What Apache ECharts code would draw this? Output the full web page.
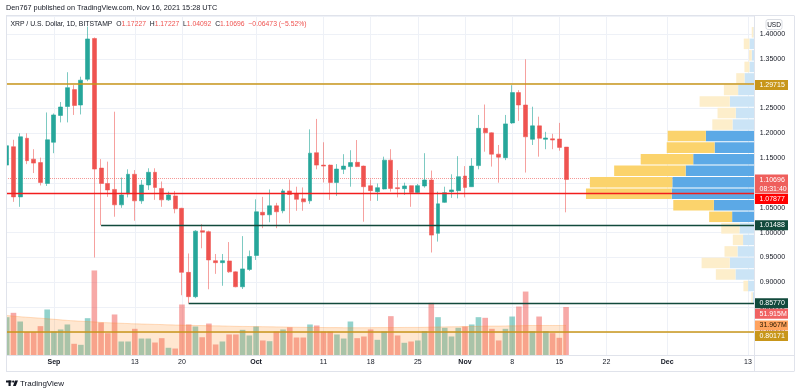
<!DOCTYPE html>
<html>
<head>
<meta charset="utf-8">
<script src="https://cdn.jsdelivr.net/npm/echarts@6/dist/echarts.min.js"></script>
<style>html,body{margin:0;padding:0;background:#fff;}#c{width:800px;height:392px;}</style>
</head>
<body>
<div id="c"></div>
<script>
// ---------------- DATA ----------------
const firstCategory = '2021-08-24';   // first calendar day on the time axis
const categoryCount = 113;            // through 2021-12-14
const firstCandleDate = '2021-08-25';

// time-axis tick labels (date -> label)
const timeTickLabels = {
  '2021-09-01': 'Sep', '2021-09-13': '13', '2021-09-20': '20',
  '2021-10-01': 'Oct', '2021-10-11': '11', '2021-10-18': '18', '2021-10-25': '25',
  '2021-11-01': 'Nov', '2021-11-08': '8', '2021-11-15': '15', '2021-11-22': '22',
  '2021-12-01': 'Dec', '2021-12-13': '13'
};
const monthNames = ['Sep', 'Oct', 'Nov', 'Dec'];

// daily candles from 2021-08-25: [open, close, low, high]
const ohlc = [
  [1.136, 1.175, 1.128, 1.182],
  [1.173, 1.072, 1.062, 1.187],
  [1.072, 1.193, 1.052, 1.200],
  [1.190, 1.145, 1.138, 1.200],
  [1.148, 1.140, 1.120, 1.168],
  [1.141, 1.101, 1.095, 1.151],
  [1.099, 1.187, 1.094, 1.242],
  [1.182, 1.237, 1.160, 1.240],   // Sep 1
  [1.236, 1.253, 1.222, 1.263],
  [1.254, 1.292, 1.222, 1.323],
  [1.288, 1.256, 1.237, 1.297],
  [1.257, 1.307, 1.238, 1.314],
  [1.309, 1.390, 1.305, 1.415],
  [1.391, 1.128, 0.950, 1.393],
  [1.130, 1.099, 1.01488, 1.148],
  [1.099, 1.086, 1.072, 1.143],
  [1.087, 1.056, 1.032, 1.2435],
  [1.056, 1.076, 1.050, 1.111],
  [1.078, 1.1175, 1.071, 1.1275],
  [1.1175, 1.064, 1.024, 1.126],  // Sep 13
  [1.064, 1.096, 1.058, 1.106],
  [1.096, 1.1215, 1.086, 1.1296],
  [1.1215, 1.091, 1.066, 1.1296],
  [1.089, 1.066, 1.052, 1.103],
  [1.066, 1.076, 1.064, 1.0825],
  [1.074, 1.048, 1.039, 1.084],
  [1.049, 0.920, 0.874, 1.050],   // Sep 20
  [0.920, 0.871, 0.8577, 0.958],
  [0.871, 1.003, 0.868, 1.005],
  [1.004, 1.001, 0.9685, 1.017],
  [1.002, 0.945, 0.886, 1.004],
  [0.9435, 0.9395, 0.917, 0.957],
  [0.9395, 0.9435, 0.893, 0.957],
  [0.943, 0.921, 0.919, 0.981],
  [0.921, 0.891, 0.890, 0.922],
  [0.891, 0.927, 0.8865, 0.993],
  [0.926, 0.952, 0.923, 0.964],
  [0.954, 1.042, 0.945, 1.067],   // Oct 1
  [1.041, 1.0355, 1.009, 1.072],
  [1.036, 1.054, 1.021, 1.087],
  [1.054, 1.042, 1.009, 1.060],
  [1.044, 1.084, 1.039, 1.088],
  [1.084, 1.077, 1.019, 1.107],
  [1.079, 1.067, 1.044, 1.0925],
  [1.068, 1.062, 1.044, 1.091],
  [1.064, 1.160, 1.058, 1.208],
  [1.161, 1.136, 1.1275, 1.229],
  [1.136, 1.134, 1.101, 1.182],   // Oct 11
  [1.136, 1.101, 1.066, 1.137],
  [1.101, 1.128, 1.074, 1.138],
  [1.1275, 1.134, 1.118, 1.158],
  [1.133, 1.141, 1.0925, 1.166],
  [1.1416, 1.133, 1.132, 1.1865],
  [1.134, 1.0925, 1.022, 1.135],
  [1.0945, 1.0845, 1.064, 1.107], // Oct 18
  [1.0825, 1.0905, 1.064, 1.099],
  [1.088, 1.146, 1.087, 1.153],
  [1.146, 1.089, 1.0825, 1.168],
  [1.0906, 1.0886, 1.071, 1.126],
  [1.0886, 1.094, 1.076, 1.1006],
  [1.0946, 1.081, 1.052, 1.095],
  [1.081, 1.0946, 1.079, 1.098],  // Oct 25
  [1.094, 1.106, 1.0906, 1.160],
  [1.106, 0.995, 0.960, 1.125],
  [0.9986, 1.058, 0.982, 1.0825],
  [1.061, 1.0805, 1.060, 1.0925],
  [1.0825, 1.086, 1.070, 1.1175],
  [1.0845, 1.1127, 1.069, 1.154],
  [1.114, 1.091, 1.071, 1.134],   // Nov 1
  [1.0925, 1.134, 1.092, 1.150],
  [1.135, 1.210, 1.1275, 1.237],
  [1.210, 1.201, 1.163, 1.258],
  [1.201, 1.158, 1.133, 1.202],
  [1.158, 1.152, 1.1006, 1.1765],
  [1.151, 1.219, 1.146, 1.237],
  [1.221, 1.282, 1.219, 1.297],   // Nov 8
  [1.282, 1.257, 1.225, 1.287],
  [1.257, 1.193, 1.121, 1.349],
  [1.188, 1.215, 1.1765, 1.2536],
  [1.215, 1.190, 1.153, 1.2335],
  [1.188, 1.1906, 1.168, 1.203],
  [1.189, 1.1865, 1.168, 1.199],
  [1.1886, 1.17169, 1.165, 1.221],  // Nov 15
  [1.17227, 1.10696, 1.04092, 1.17227] // Nov 16
];

// daily volume (millions) from 2021-08-25
const volumes = [
  40.9, 45.6, 36.2, 24.7, 24.7, 31.2, 49.2,
  25.4, 27.6, 33.0, 12.1, 11.0, 39.8, 91.4, 35.1, 23.6, 43.8, 14.6, 14.6,
  28.3, 17.8, 17.8, 13.5, 18.2, 7.8, 7.0,
  54.6, 33.0, 30.8, 19.2, 34.0, 11.4, 14.6, 22.2, 22.2, 27.2, 21.1,
  30.8, 15.7, 14.9, 25.4, 27.6, 30.0, 18.9, 18.9, 33.0, 31.9,
  25.4, 25.4, 22.2, 17.8, 36.2, 18.2, 20.0,
  27.6, 16.4, 25.4, 42.0, 21.1, 13.2, 14.6,
  15.7, 25.7, 56.4, 40.9, 29.4, 20.0, 29.4,
  30.8, 33.0, 40.9, 40.2, 28.3, 15.7, 28.3,
  41.6, 52.4, 68.6, 25.7, 41.6, 25.7, 23.6,
  18.6, 51.915
];

// volume moving average (millions) from 2021-08-24
const volumeMA = [
  43.2, 42.7, 42.0, 41.4, 40.8, 40.3, 39.8, 39.2,
  38.6, 38.0, 37.4, 36.9, 36.5, 36.1, 35.8, 35.2, 34.9, 34.6, 34.3, 34.0,
  33.7, 33.5, 33.3, 33.1, 32.9, 32.6, 32.4, 32.3, 32.1, 31.9, 31.8, 31.6,
  31.5, 31.4, 31.2, 31.0, 30.9, 30.8, 30.7, 30.6, 30.5, 30.4, 30.3, 30.1,
  30.0, 29.9, 29.8, 29.8, 29.7, 29.6, 29.6, 29.5, 29.5, 29.5, 29.5, 29.5,
  29.6, 29.6, 29.7, 29.7, 29.8, 29.8, 29.8, 29.9, 30.1, 30.3, 30.4, 30.5,
  30.6, 30.7, 30.9, 31.0, 31.2, 31.3, 31.3, 31.4, 31.5, 31.6, 31.8, 31.9,
  31.9, 31.9, 31.9, 31.9, 31.967
];

// visible-range volume profile, 24 rows from the lowest low (bottom) upward (millions)
const profileDown = [2.3, 8.2, 34.5, 49.5, 22.8, 18.0, 32.0, 40.3, 71.2, 150.5, 144.7, 125.5,
                     92.2, 84.0, 67.0, 35.5, 32.0, 53.0, 25.0, 14.5, 8.8, 4.7, 10.0, 3.0];
const profileUp   = [3.5, 11.7, 33.8, 43.8, 30.3, 20.5, 26.8, 39.7, 71.8, 145.8, 144.7, 121.3,
                     108.0, 70.5, 85.8, 39.0, 33.3, 43.8, 29.2, 18.0, 9.3, 5.3, 9.3, 2.3];
const valueAreaRows = [7, 14];

// drawn horizontal levels
const levelPrices = [1.29715, 1.07877, 1.01488, 0.85770, 0.80171];
const levelStarts = [null, null, '2021-09-08', '2021-09-21', null];
const levelColors = ['#c8961a', '#f21d1d', '#124a3c', '#124a3c', '#c8961a'];

// ---------------- BUILD ----------------
const FONT = 'Liberation Sans, Arial, sans-serif';
const TXT = '#131722';
const UP = '#26a69a', DOWN = '#ef5350';

const categories = [];
const base = new Date(firstCategory + 'T00:00:00Z');
for (let i = 0; i < categoryCount; i++) {
  const d = new Date(base.getTime() + i * 86400000);
  categories.push(d.toISOString().slice(0, 10));
}
const c0 = categories.indexOf(firstCandleDate);
const candleData = ohlc.map((r, i) => [categories[c0 + i], r[0], r[1], r[2], r[3]]);
const volData = volumes.map((v, i) => ({
  value: [categories[c0 + i], v],
  itemStyle: { color: ohlc[i][1] >= ohlc[i][0] ? 'rgba(38,166,154,0.5)' : 'rgba(239,83,80,0.5)' }
}));
const maData = volumeMA.map((v, i) => [categories[i], v]);

const lastIdx = ohlc.length - 1;
const lastC = ohlc[lastIdx][1], prevC = ohlc[lastIdx - 1][1];
const lows = ohlc.map(r => r[2]), highs = ohlc.map(r => r[3]);
const pLow = Math.min(...lows), pHigh = Math.max(...highs);
const nRows = profileDown.length, step = (pHigh - pLow) / nRows;
const profileData = profileDown.map((dn, i) => [pLow + i * step, pLow + (i + 1) * step, dn, profileUp[i],
  (i >= valueAreaRows[0] && i <= valueAreaRows[1]) ? 1 : 0]);

const PRICE_MAX = 1.436247, PRICE_MIN = 0.753605;
const G = { left: -2.38, width: 757.12 };
const lastCat = categories[categories.length - 1];

const levelLines = levelPrices.map((p, i) => {
  const ls = { color: levelColors[i], width: i === 0 || i === 4 ? 1.6 : 1.3, type: 'solid' };
  if (levelStarts[i]) return [{ coord: [levelStarts[i], p], lineStyle: ls }, { coord: [lastCat, p] }];
  return { yAxis: p, lineStyle: ls };
});

function renderProfile(params, api) {
  const lo = api.value(0), hi = api.value(1), dn = api.value(2), up = api.value(3), va = api.value(4);
  const top = api.coord([0, hi]), bot = api.coord([0, lo]);
  const xR = top[0];
  const xUp = api.coord([up, lo])[0];
  const xAll = api.coord([up + dn, lo])[0];
  const y = top[1] + 0.5, h = Math.max(0.5, bot[1] - top[1] - 1);
  return {
    type: 'group', children: [
      { type: 'rect', shape: { x: xUp, y: y, width: xR - xUp, height: h }, style: { fill: va ? '#5ca9e6' : '#cbe4f6' } },
      { type: 'rect', shape: { x: xAll, y: y, width: xUp - xAll, height: h }, style: { fill: va ? '#fbd36c' : '#fdeecb' } }
    ]
  };
}

const isTick = (i, v) => Object.prototype.hasOwnProperty.call(timeTickLabels, v);

const chart = echarts.init(document.getElementById('c'), null, { renderer: 'canvas', width: 800, height: 392 });

chart.setOption({
  animation: false,
  backgroundColor: '#ffffff',
  grid: [
    { left: G.left, width: G.width, top: 16, height: 339 },
    { left: G.left, width: G.width, top: 262.5, height: 92.5 },
    { left: G.left, width: G.width, top: 16, height: 339 }
  ],
  xAxis: [
    { gridIndex: 0, type: 'category', data: categories, boundaryGap: false,
      axisLine: { show: false }, axisTick: { show: false }, axisLabel: { show: false },
      splitLine: { show: true, interval: isTick, lineStyle: { color: '#eef1f7', width: 1 } } },
    { gridIndex: 1, type: 'category', data: categories, boundaryGap: false,
      axisLine: { show: false }, axisTick: { show: false }, splitLine: { show: false },
      axisLabel: { show: true, interval: isTick, margin: 4, color: TXT, fontSize: 7, fontFamily: FONT,
        formatter: v => { const t = timeTickLabels[v] || ''; return monthNames.includes(t) ? '{b|' + t + '}' : t; },
        rich: { b: { fontWeight: 'bold', fontSize: 7, fontFamily: FONT, color: TXT } } } },
    { gridIndex: 2, type: 'value', inverse: true, min: 0, max: 1325, show: false }
  ],
  yAxis: [
    { gridIndex: 0, type: 'value', position: 'right', min: PRICE_MIN, max: PRICE_MAX,
      minInterval: 0.05, maxInterval: 0.05, splitNumber: 14,
      axisLine: { show: false }, axisTick: { show: false },
      axisLabel: { margin: 5, color: TXT, fontSize: 7, fontFamily: FONT, showMinLabel: false, showMaxLabel: false,
        formatter: v => { const k = v / 0.05; return Math.abs(k - Math.round(k)) < 1e-6 ? v.toFixed(5) : ''; } },
      splitLine: { show: true, lineStyle: { color: '#eef1f7', width: 1 } } },
    { gridIndex: 1, type: 'value', min: 0, max: 100, show: false },
    { gridIndex: 2, type: 'value', min: PRICE_MIN, max: PRICE_MAX, show: false }
  ],
  series: [
    { type: 'bar', xAxisIndex: 1, yAxisIndex: 1, data: volData, barWidth: 5.6, z: 1, silent: true },
    { type: 'line', xAxisIndex: 1, yAxisIndex: 1, data: maData, smooth: 0.3, showSymbol: false, z: 2, silent: true,
      lineStyle: { width: 0.8, color: 'rgba(255,140,40,0.35)' }, areaStyle: { color: 'rgba(255,140,40,0.3)' } },
    { type: 'line', xAxisIndex: 0, yAxisIndex: 0, data: [], z: 1, silent: true,
      markLine: { silent: true, symbol: ['none', 'none'], z: 1, label: { show: false },
        lineStyle: { type: 'dotted', color: 'rgba(239,83,80,0.6)', width: 1 }, data: [{ yAxis: lastC }] } },
    { type: 'custom', xAxisIndex: 2, yAxisIndex: 2, renderItem: renderProfile, data: profileData, z: 3, silent: true,
      encode: { x: 2, y: 0 } },
    { type: 'candlestick', xAxisIndex: 0, yAxisIndex: 0, data: candleData, encode: { x: 0, y: [1, 2, 3, 4] },
      barWidth: 4.4, z: 4, silent: true,
      itemStyle: { color: UP, color0: DOWN, borderColor: 'rgba(38,166,154,0.6)', borderColor0: 'rgba(239,83,80,0.55)', borderWidth: 1 } },
    { type: 'line', xAxisIndex: 0, yAxisIndex: 0, data: [], z: 6, silent: true,
      markLine: { silent: true, symbol: ['none', 'none'], z: 6, label: { show: false }, data: levelLines } }
  ]
});

// ---------------- overlays: price-scale tags, header, frame ----------------
const priceTags = [
  { axis: 0, value: levelPrices[0], text: levelPrices[0].toFixed(5), bg: '#c8961a', fg: '#ffffff' },
  { axis: 0, value: lastC, text: lastC.toFixed(5), sub: '08:31:40', bg: '#ef5f5c', fg: '#ffffff' },
  { axis: 0, value: levelPrices[1], text: levelPrices[1].toFixed(5), bg: '#ff0000', fg: '#ffffff' },
  { axis: 0, value: levelPrices[2], text: levelPrices[2].toFixed(5), bg: '#124a3c', fg: '#ffffff' },
  { axis: 0, value: levelPrices[3], text: levelPrices[3].toFixed(5), bg: '#124a3c', fg: '#ffffff' },
  { axis: 1, value: volumes[volumes.length - 1], text: volumes[volumes.length - 1].toFixed(3) + 'M', bg: '#f06262', fg: '#ffffff' },
  { axis: 1, value: volumeMA[volumeMA.length - 1], text: volumeMA[volumeMA.length - 1].toFixed(3) + 'M', bg: '#ffa35e', fg: '#2a1a00' },
  { axis: 0, value: levelPrices[4], text: levelPrices[4].toFixed(5), bg: '#c8961a', fg: '#ffffff' }
];
const placed = priceTags.map(t => {
  const yc = chart.convertToPixel({ yAxisIndex: t.axis }, t.value);
  const h = t.sub ? 19 : 10;
  return Object.assign({}, t, { yc: yc, top: yc - 5, h: h });
}).sort((a, b) => a.top - b.top);
for (let i = 1; i < placed.length; i++) {
  const p = placed[i - 1];
  if (placed[i].top < p.top + p.h + 0.5) placed[i].top = p.top + p.h + 0.5;
}
const graphics = [];
const FR = '#e0e3eb';
// cover left margin outside the pane
graphics.push({ type: 'rect', z: 50, shape: { x: 0, y: 0, width: 6, height: 392 }, style: { fill: '#ffffff' } });
// frame
graphics.push({ type: 'line', z: 51, shape: { x1: 6, y1: 15.5, x2: 794, y2: 15.5 }, style: { stroke: FR, lineWidth: 1 } });
graphics.push({ type: 'line', z: 51, shape: { x1: 6, y1: 355.5, x2: 794, y2: 355.5 }, style: { stroke: FR, lineWidth: 1 } });
graphics.push({ type: 'line', z: 51, shape: { x1: 6, y1: 371.5, x2: 794, y2: 371.5 }, style: { stroke: FR, lineWidth: 1 } });
graphics.push({ type: 'line', z: 51, shape: { x1: 6.5, y1: 15.5, x2: 6.5, y2: 371.5 }, style: { stroke: FR, lineWidth: 1 } });
graphics.push({ type: 'line', z: 51, shape: { x1: 754.5, y1: 15.5, x2: 754.5, y2: 371.5 }, style: { stroke: FR, lineWidth: 1 } });
graphics.push({ type: 'line', z: 51, shape: { x1: 794.5, y1: 15.5, x2: 794.5, y2: 371.5 }, style: { stroke: FR, lineWidth: 1 } });
placed.forEach(t => {
  graphics.push({ type: 'rect', z: 60, shape: { x: 755, y: t.top, width: 33, height: t.h }, style: { fill: t.bg } });
  graphics.push({ type: 'text', z: 61, x: 759.5, y: t.top + 5.1,
    style: { text: t.text, fill: t.fg, fontSize: 7, fontFamily: FONT, verticalAlign: 'middle', align: 'left' } });
  if (t.sub) graphics.push({ type: 'text', z: 61, x: 759.5, y: t.top + 14.2,
    style: { text: t.sub, fill: t.fg, fontSize: 7, fontFamily: FONT, verticalAlign: 'middle', align: 'left' } });
});
// USD badge
graphics.push({ type: 'rect', z: 60, shape: { x: 766, y: 19.5, width: 16, height: 10, r: 2 }, style: { fill: '#fff', stroke: '#d1d4dc', lineWidth: 0.8 } });
graphics.push({ type: 'text', z: 61, x: 774, y: 24.8, style: { text: 'USD', fill: TXT, fontSize: 6.5, fontFamily: FONT, align: 'center', verticalAlign: 'middle' } });
// header
graphics.push({ type: 'text', z: 61, x: 6, y: 8, style: { text: 'Den767 published on TradingView.com, Nov 16, 2021 15:28 UTC', fill: TXT, fontSize: 7.3, fontFamily: FONT, verticalAlign: 'middle' } });
// legend
const chg = lastC - prevC, pct = chg / prevC * 100;
const fmtS = v => (v < 0 ? '\u2212' : '+') + Math.abs(v).toFixed(5);
const L = ohlc[lastIdx];
const LF = 6.8;
graphics.push({ type: 'text', z: 61, x: 10.5, y: 24.3, style: {
  text: '{t|XRP / U.S. Dollar, 1D, BITSTAMP}  {k|O}{v|' + L[0].toFixed(5) + '}  {k|H}{v|' + L[3].toFixed(5) + '}  {k|L}{v|' + L[2].toFixed(5) +
    '}  {k|C}{v|' + L[1].toFixed(5) + '}  {v|' + fmtS(chg) + ' (' + (pct < 0 ? '\u2212' : '+') + Math.abs(pct).toFixed(2) + '%)}',
  verticalAlign: 'middle', fontSize: LF, fontFamily: FONT,
  rich: { t: { fill: TXT, fontSize: LF, fontFamily: FONT }, k: { fill: TXT, fontSize: LF, fontFamily: FONT }, v: { fill: DOWN, fontSize: LF, fontFamily: FONT } } } });
// TradingView footer logo + text
graphics.push({ type: 'rect', z: 61, shape: { x: 6, y: 380.5, width: 5.5, height: 2 }, style: { fill: TXT } });
graphics.push({ type: 'rect', z: 61, shape: { x: 8.5, y: 380.5, width: 2.2, height: 5.5 }, style: { fill: TXT } });
graphics.push({ type: 'circle', z: 61, shape: { cx: 13.2, cy: 381.6, r: 1.1 }, style: { fill: TXT } });
graphics.push({ type: 'polygon', z: 61, shape: { points: [[15, 380.5], [18, 380.5], [15.8, 386], [13, 386]] }, style: { fill: TXT } });
graphics.push({ type: 'text', z: 61, x: 20, y: 383.3, style: { text: 'TradingView', fill: TXT, fontSize: 8, fontFamily: FONT, verticalAlign: 'middle' } });

chart.setOption({ graphic: graphics });
</script>
</body>
</html>
